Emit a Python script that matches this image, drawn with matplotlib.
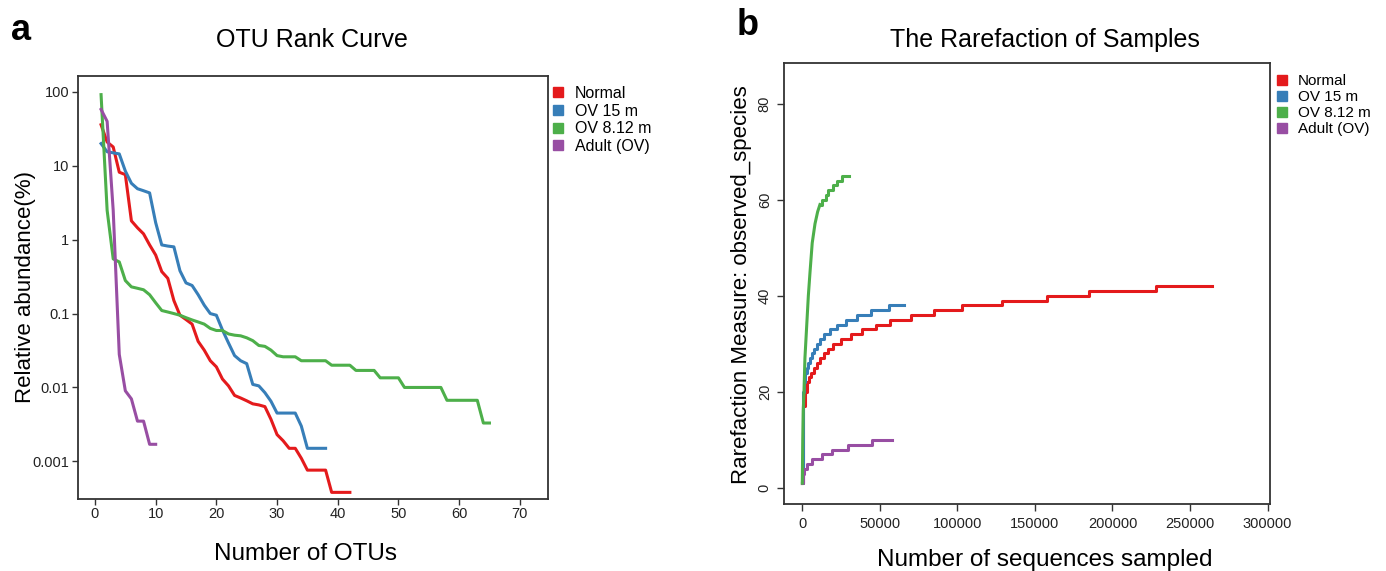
import numpy as np
import matplotlib
matplotlib.use("Agg")
import matplotlib.pyplot as plt
from matplotlib.lines import Line2D

plt.rcParams['font.family'] = ['Liberation Sans', 'DejaVu Sans']

groups = ["Normal", "OV 15 m", "OV 8.12 m", "Adult (OV)"]
colors = ["#E41A1C", "#377EB8", "#4DAF4A", "#984EA3"]

# ---------- panel a: OTU rank curve (relative abundance %, by rank 1..n) ----------
rank_normal = [36, 21, 18, 8.2, 7.6, 1.8, 1.45, 1.2, 0.85, 0.62, 0.37, 0.3, 0.15, 0.095,
               0.083, 0.072, 0.042, 0.032, 0.023, 0.019, 0.013, 0.0105, 0.0078, 0.0072,
               0.0066, 0.006, 0.0058, 0.0055, 0.0037, 0.0023, 0.0019, 0.0015, 0.0015,
               0.0011, 0.00076, 0.00076, 0.00076, 0.00076, 0.00038, 0.00038, 0.00038, 0.00038]
rank_ov15 = [20, 15.5, 15, 14.5, 8.5, 5.8, 4.9, 4.6, 4.3, 1.7, 0.85, 0.82, 0.8, 0.38,
             0.26, 0.24, 0.18, 0.13, 0.1, 0.095, 0.06, 0.04, 0.027, 0.023, 0.021, 0.011,
             0.0105, 0.0085, 0.0065, 0.0045, 0.0045, 0.0045, 0.0045, 0.003, 0.0015,
             0.0015, 0.0015, 0.0015]
rank_ov812 = [92, 2.5, 0.55, 0.5, 0.28, 0.23, 0.22, 0.21, 0.18, 0.14, 0.11, 0.105, 0.1,
              0.095, 0.088, 0.082, 0.077, 0.072, 0.063, 0.059, 0.059, 0.053, 0.051, 0.05,
              0.047, 0.043, 0.037, 0.036, 0.032, 0.027, 0.026, 0.026, 0.026, 0.023, 0.023,
              0.023, 0.023, 0.023, 0.02, 0.02, 0.02, 0.02, 0.017, 0.017, 0.017, 0.017,
              0.0135, 0.0135, 0.0135, 0.0135, 0.01, 0.01, 0.01, 0.01, 0.01, 0.01, 0.01,
              0.0067, 0.0067, 0.0067, 0.0067, 0.0067, 0.0067, 0.0033, 0.0033]
rank_adult = [58, 40, 2.5, 0.028, 0.009, 0.007, 0.0035, 0.0035, 0.0017, 0.0017]
rank_series = [rank_normal, rank_ov15, rank_ov812, rank_adult]

a_xticks = [0, 10, 20, 30, 40, 50, 60, 70]
a_yticks = [100, 10, 1, 0.1, 0.01, 0.001]
a_ylabels = ["100", "10", "1", "0.1", "0.01", "0.001"]

# ---------- panel b: rarefaction (sequences sampled -> observed species) ----------
depth_normal = [0, 300, 700, 1700, 2800, 4100, 5600, 7300, 9200, 11400, 13700, 16300,
                19900, 24800, 31300, 38300, 47300, 56500, 69800, 84800, 103000, 128700,
                157500, 185100, 228300, 264000]
species_normal = [1, 12, 17, 20, 22, 23, 24, 25, 26, 27, 28, 29, 30, 31, 32, 33, 34, 35,
                  36, 37, 38, 39, 40, 41, 42, 42]
depth_ov15 = [0, 300, 700, 1100, 1900, 2800, 3900, 4900, 6200, 7700, 9400, 11600, 14100,
              17800, 22700, 28100, 35500, 44100, 55900, 65500]
species_ov15 = [1, 14, 20, 22, 24, 25, 26, 27, 28, 29, 30, 31, 32, 33, 34, 35, 36, 37, 38, 38]
# green rises smoothly first, then in visible steps
depth_ov812_rise = [0, 300, 600, 1100, 1700, 2800, 3900, 5000, 6400, 8200, 9900, 11400]
species_ov812_rise = [1, 10, 16, 20, 27, 33.5, 40, 45, 51, 55, 57.5, 59]
depth_ov812 = [11400, 12900, 15100, 16700, 20000, 22100, 25400, 30300]
species_ov812 = [59, 60, 61, 62, 63, 64, 65, 65]
depth_adult = [0, 300, 1100, 3200, 6000, 12500, 18900, 29600, 44700, 57600]
species_adult = [1, 3, 4, 5, 6, 7, 8, 9, 10, 10]
rare_depths = [depth_normal, depth_ov15, depth_ov812, depth_adult]
rare_species = [species_normal, species_ov15, species_ov812, species_adult]

b_xticks = [0, 50000, 100000, 150000, 200000, 250000, 300000]
b_yticks = [0, 20, 40, 60, 80]

W, H = 1386, 571
fig = plt.figure(figsize=(W / 100, H / 100), dpi=100)

def fx(px):
    return px / W

def fy(py):
    return 1 - py / H

# ---------- panel a ----------
axa = fig.add_axes([fx(77.7), fy(499), fx(547.7 - 77.7), (499 - 76) / H])
for vals, c in zip(rank_series, colors):
    axa.plot(np.arange(1, len(vals) + 1), vals, color=c, lw=2.2)
axa.set_yscale("log")
axa.set_xlim(-2.85, 74.6)
axa.set_ylim(10 ** -3.51, 10 ** 2.216)
axa.set_xticks(a_xticks)
axa.set_yticks(a_yticks)
axa.set_yticklabels(a_ylabels)
axa.minorticks_off()
axa.tick_params(direction="out", length=4, width=1.0, color="#333333",
                labelsize=10.5, labelcolor="#222222", pad=2)
for sp in axa.spines.values():
    sp.set_color("#333333")
    sp.set_linewidth(1.3)

leg_a = [Line2D([], [], ls="none", marker="s", ms=7, color=c) for c in colors]
fig.legend(leg_a, groups, loc="upper left", bbox_to_anchor=(fx(552), fy(86)),
           frameon=False, fontsize=11.5, handlelength=0.8, handletextpad=0.65,
           labelspacing=0.16, borderpad=0, borderaxespad=0)

fig.text(fx(312), fy(47), "OTU Rank Curve", fontsize=18, ha="center", va="baseline")
fig.text(fx(305), fy(560), "Number of OTUs", fontsize=17.5, ha="center", va="baseline")
fig.text(fx(26), fy(287), "Relative abundance(%)", fontsize=16, rotation=90,
         ha="center", va="center")
fig.text(fx(11), fy(40), "a", fontsize=26, fontweight="bold", va="baseline")

# ---------- panel b ----------
axb = fig.add_axes([fx(784.3), fy(504.3), fx(1270 - 784.3), (504.3 - 63.3) / H])
for xs, ys, c in zip(rare_depths, rare_species, colors):
    axb.step(xs, ys, where="post", color=c, lw=2.2)
# green early rise drawn on top, as in the original
axb.plot(depth_ov812_rise, species_ov812_rise, color=colors[2], lw=2.2)
axb.set_xlim(-11600, 301600)
axb.set_ylim(-3.4, 88.4)
axb.set_xticks(b_xticks)
axb.set_yticks(b_yticks)
axb.set_xticklabels([str(v) for v in b_xticks])
axb.set_yticklabels([str(v) for v in b_yticks], rotation=90, va="center")
axb.tick_params(direction="out", length=5, width=1.0, color="#333333",
                labelsize=10.5, labelcolor="#222222", pad=4)
for sp in axb.spines.values():
    sp.set_color("#333333")
    sp.set_linewidth(1.3)

fig.legend(leg_a, groups, loc="upper left", bbox_to_anchor=(fx(1275.5), fy(74.3)),
           frameon=False, fontsize=11, handlelength=0.8, handletextpad=0.65,
           labelspacing=0.135, borderpad=0, borderaxespad=0)

fig.text(fx(1045), fy(47), "The Rarefaction of Samples", fontsize=18, ha="center",
         va="baseline")
fig.text(fx(1045), fy(566), "Number of sequences sampled", fontsize=17.5, ha="center",
         va="baseline")
fig.text(fx(741), fy(285), "Rarefaction Measure: observed_species", fontsize=16,
         rotation=90, ha="center", va="center")
fig.text(fx(737), fy(35), "b", fontsize=26, fontweight="bold", va="baseline")

fig.savefig("out.png", dpi=100)
